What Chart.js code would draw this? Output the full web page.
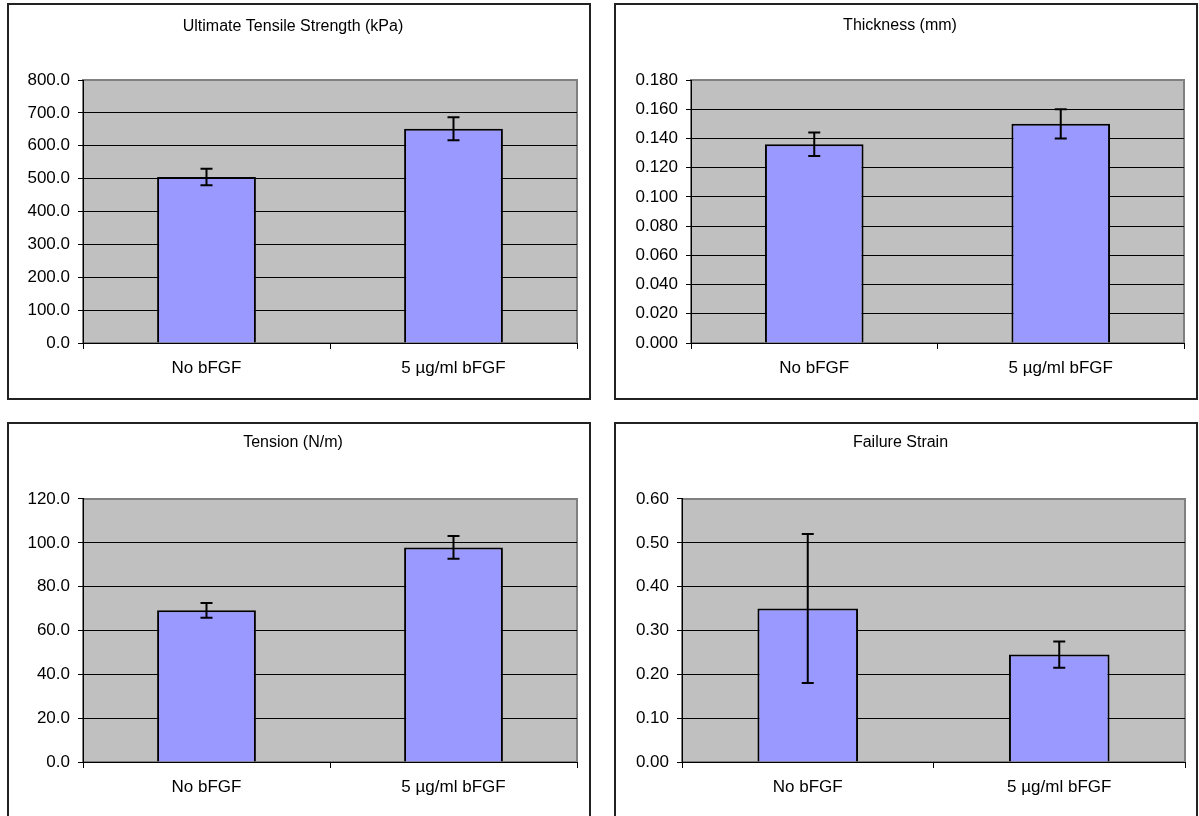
<!DOCTYPE html>
<html>
<head>
<meta charset="utf-8">
<script src="https://cdn.jsdelivr.net/npm/chart.js@4.4.1/dist/chart.umd.min.js"></script>
<style>
  body { margin: 0; background: #fff; width: 1199px; height: 816px; overflow: hidden; position: relative; }
  .panel { position: absolute; width: 584px; height: 397px; border: 2px solid #222; box-sizing: border-box; background: #fff; }
  .panel canvas { display: block; }
</style>
</head>
<body>
<div class="panel" style="left:7px;top:3px"><canvas id="c1" width="580" height="393"></canvas></div>
<div class="panel" style="left:614px;top:3px"><canvas id="c2" width="580" height="393"></canvas></div>
<div class="panel" style="left:7px;top:422px"><canvas id="c3" width="580" height="393"></canvas></div>
<div class="panel" style="left:614px;top:422px"><canvas id="c4" width="580" height="393"></canvas></div>
<script>
var categories = ['No bFGF', '5 µg/ml bFGF']

var utsValues = [505, 652]
var utsErrors = [25, 35]

var thicknessValues = [0.136, 0.150]
var thicknessErrors = [0.008, 0.010]

var tensionValues = [69.2, 97.9]
var tensionErrors = [3.4, 5.2]

var strainValues = [0.35, 0.245]
var strainErrors = [0.17, 0.03]

Chart.defaults.font.family = "'Liberation Sans', Arial, sans-serif";
Chart.defaults.color = '#000';

// grey plot area like the old Excel charts
const plotArea = {
  id: 'plotArea',
  beforeDraw(chart) {
    const a = chart.chartArea, ctx = chart.ctx;
    ctx.save();
    ctx.fillStyle = '#C0C0C0';
    ctx.fillRect(a.left, a.top, a.right - a.left, a.bottom - a.top);
    ctx.strokeStyle = '#808080';
    ctx.lineWidth = 2;
    ctx.strokeRect(a.left, a.top, a.right - a.left, a.bottom - a.top);
    ctx.restore();
  }
};

const errorBars = {
  id: 'errorBars',
  afterDatasetsDraw(chart) {
    const ctx = chart.ctx, y = chart.scales.y;
    const meta = chart.getDatasetMeta(0);
    const vals = chart.data.datasets[0].data;
    const errs = chart.data.datasets[0].errors;
    ctx.save();
    ctx.strokeStyle = '#000';
    ctx.lineWidth = 2;
    meta.data.forEach(function(bar, i) {
      const top = y.getPixelForValue(vals[i] + errs[i]);
      const bot = y.getPixelForValue(vals[i] - errs[i]);
      ctx.beginPath();
      ctx.moveTo(bar.x, top); ctx.lineTo(bar.x, bot);
      ctx.moveTo(bar.x - 6, top); ctx.lineTo(bar.x + 6, top);
      ctx.moveTo(bar.x - 6, bot); ctx.lineTo(bar.x + 6, bot);
      ctx.stroke();
    });
    ctx.restore();
  }
};

function makeChart(id, title, values, errors, max, step, decimals, yWidth, rightPad, titleY) {
  return new Chart(document.getElementById(id), {
    type: 'bar',
    data: {
      labels: categories,
      datasets: [{
        data: values,
        errors: errors,
        backgroundColor: '#9999FF',
        borderColor: '#000',
        borderWidth: 2,
        barPercentage: 0.4,
        categoryPercentage: 1.0
      }]
    },
    options: {
      responsive: false,
      animation: false,
      layout: { padding: { left: 0, right: rightPad, top: 0, bottom: 0 } },
      plugins: {
        legend: { display: false },
        tooltip: { enabled: false },
        title: {
          display: true,
          text: title,
          color: '#000',
          font: { size: 16, weight: 'normal' },
          padding: { top: titleY - 9.6, bottom: 75 - (titleY - 9.6) - 19.2 }
        }
      },
      scales: {
        x: {
          grid: { display: true, drawOnChartArea: false, color: '#000', tickLength: 6, offset: true },
          border: { color: '#000', width: 1 },
          ticks: { font: { size: 17 }, color: '#000', padding: 9 },
          afterFit(scale) { scale.height = 55; }
        },
        y: {
          min: 0,
          max: max,
          grid: {
            color: function(c) { return c.tick && c.tick.value === max ? '#808080' : '#000'; },
            tickColor: '#000',
            tickLength: 5,
            lineWidth: 1
          },
          border: { color: '#000', width: 1 },
          ticks: {
            stepSize: step,
            font: { size: 17 },
            color: '#000',
            padding: 8,
            callback: function(v) { return Number(v).toFixed(decimals); }
          },
          afterFit(scale) { scale.width = yWidth; }
        }
      }
    },
    plugins: [plotArea, errorBars]
  });
}

makeChart('c1', 'Ultimate Tensile Strength (kPa)', utsValues, utsErrors, 800, 100, 1, 74, 12, 22);
makeChart('c2', 'Thickness (mm)', thicknessValues, thicknessErrors, 0.18, 0.02, 3, 75, 12, 21);
makeChart('c3', 'Tension (N/m)', tensionValues, tensionErrors, 120, 20, 1, 74, 12, 19);
makeChart('c4', 'Failure Strain', strainValues, strainErrors, 0.6, 0.1, 2, 66, 11, 19);
</script>
</body>
</html>
